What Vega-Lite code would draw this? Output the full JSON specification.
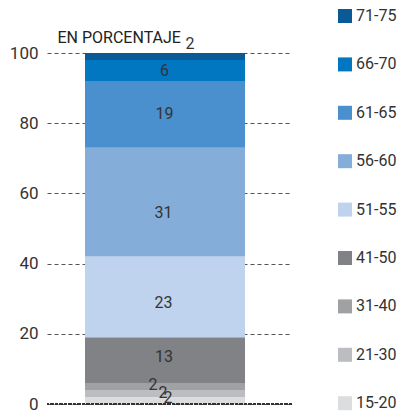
{
  "$schema": "https://vega.github.io/schema/vega-lite/v6.json",
  "width": 245,
  "height": 351,
  "autosize": "none",
  "padding": {"left": 47, "top": 53, "right": 112, "bottom": 11},
  "background": "white",
  "config": {
    "view": {"stroke": null},
    "font": "Roboto",
    "text": {"font": "Roboto"}
  },
  "data": {
    "values": [
      {"edad": "15-20", "pct": 2, "orden": 1},
      {"edad": "21-30", "pct": 2, "orden": 2},
      {"edad": "31-40", "pct": 2, "orden": 3},
      {"edad": "41-50", "pct": 13, "orden": 4},
      {"edad": "51-55", "pct": 23, "orden": 5},
      {"edad": "56-60", "pct": 31, "orden": 6},
      {"edad": "61-65", "pct": 19, "orden": 7},
      {"edad": "66-70", "pct": 6, "orden": 8},
      {"edad": "71-75", "pct": 2, "orden": 9}
    ]
  },
  "transform": [
    {"stack": "pct", "groupby": [], "sort": [{"field": "orden", "order": "ascending"}], "as": ["y0", "y1"]},
    {"calculate": "(datum.y0 + datum.y1) / 2", "as": "mid"}
  ],
  "layer": [
    {
      "mark": {"type": "bar", "width": 160, "xOffset": -4.5},
      "encoding": {
        "y": {
          "field": "y1",
          "type": "quantitative",
          "scale": {"domain": [0, 100], "nice": false},
          "axis": {
            "title": "EN PORCENTAJE",
            "titleAngle": 0,
            "titleAlign": "left",
            "titleBaseline": "middle",
            "titleX": 10,
            "titleY": -16,
            "titleFontSize": 16,
            "titleFontWeight": "normal",
            "titleColor": "#222",
            "titleFont": "Roboto",
            "values": [0, 20, 40, 60, 80, 100],
            "domain": false,
            "ticks": false,
            "labelPadding": 9,
            "labelFontSize": 17,
            "labelColor": "#333",
            "labelFont": "Roboto",
            "grid": true,
            "gridDash": [4, 3],
            "gridColor": "#555",
            "gridWidth": 1
          }
        },
        "y2": {"field": "y0"},
        "color": {
          "field": "edad",
          "type": "nominal",
          "scale": {
            "domain": ["71-75", "66-70", "61-65", "56-60", "51-55", "41-50", "31-40", "21-30", "15-20"],
            "range": ["#0a5a98", "#0077c0", "#4a90cf", "#85add9", "#c0d3ee", "#808285", "#a0a1a3", "#bcbdc0", "#dcdddf"]
          },
          "legend": {
            "title": null,
            "orient": "none",
            "legendX": 290,
            "legendY": -45,
            "symbolType": "square",
            "symbolSize": 196,
            "symbolStrokeWidth": 0,
            "labelFontSize": 16,
            "labelColor": "#333",
            "labelFont": "Roboto",
            "labelOffset": 3,
            "rowPadding": 32.4
          }
        }
      }
    },
    {
      "mark": {"type": "rule", "color": "#333", "strokeWidth": 1.5, "strokeDash": [3, 1.5]},
      "encoding": {"y": {"datum": 0, "type": "quantitative"}}
    },
    {
      "transform": [{"filter": "datum.edad === '66-70' || datum.edad === '61-65'"}],
      "mark": {"type": "text", "fontSize": 16, "color": "#333", "xOffset": -5, "baseline": "middle"},
      "encoding": {
        "y": {"field": "mid", "type": "quantitative"},
        "text": {"field": "pct", "type": "quantitative"}
      }
    },
    {
      "transform": [{"filter": "datum.edad === '56-60'"}],
      "mark": {"type": "text", "fontSize": 16, "color": "#333", "xOffset": -6, "dy": 11, "baseline": "middle"},
      "encoding": {
        "y": {"field": "mid", "type": "quantitative"},
        "text": {"field": "pct", "type": "quantitative"}
      }
    },
    {
      "transform": [{"filter": "datum.edad === '51-55'"}],
      "mark": {"type": "text", "fontSize": 16, "color": "#333", "xOffset": -6, "dy": 6, "baseline": "middle"},
      "encoding": {
        "y": {"field": "mid", "type": "quantitative"},
        "text": {"field": "pct", "type": "quantitative"}
      }
    },
    {
      "transform": [{"filter": "datum.edad === '41-50'"}],
      "mark": {"type": "text", "fontSize": 16, "color": "#333", "xOffset": -5.5, "dy": -3, "baseline": "middle"},
      "encoding": {
        "y": {"field": "mid", "type": "quantitative"},
        "text": {"field": "pct", "type": "quantitative"}
      }
    },
    {
      "transform": [{"filter": "datum.edad === '15-20'"}],
      "mark": {"type": "text", "fontSize": 16, "color": "#333", "xOffset": -1.5, "dy": -2.5, "baseline": "middle"},
      "encoding": {
        "y": {"field": "mid", "type": "quantitative"},
        "text": {"field": "pct", "type": "quantitative"}
      }
    },
    {
      "transform": [{"filter": "datum.edad === '21-30'"}],
      "mark": {"type": "text", "fontSize": 16, "color": "#333", "xOffset": -6.5, "dy": 0, "baseline": "middle"},
      "encoding": {
        "y": {"field": "mid", "type": "quantitative"},
        "text": {"field": "pct", "type": "quantitative"}
      }
    },
    {
      "transform": [{"filter": "datum.edad === '31-40'"}],
      "mark": {"type": "text", "fontSize": 16, "color": "#333", "xOffset": -16.5, "dy": -1, "baseline": "middle"},
      "encoding": {
        "y": {"field": "mid", "type": "quantitative"},
        "text": {"field": "pct", "type": "quantitative"}
      }
    },
    {
      "transform": [{"filter": "datum.edad === '71-75'"}],
      "mark": {"type": "text", "fontSize": 16, "color": "#333", "xOffset": 20.5, "dy": -12.5, "baseline": "middle"},
      "encoding": {
        "y": {"field": "mid", "type": "quantitative"},
        "text": {"field": "pct", "type": "quantitative"}
      }
    }
  ]
}
